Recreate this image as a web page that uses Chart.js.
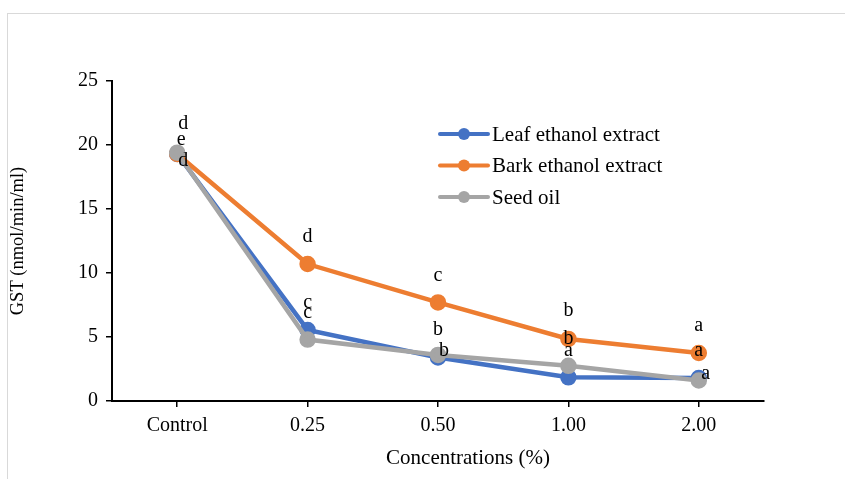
<!DOCTYPE html>
<html>
<head>
<meta charset="utf-8">
<script src="https://cdn.jsdelivr.net/npm/chart.js@4"></script>
<style>
  html, body { margin: 0; padding: 0; background: #fff; }
  #wrap { position: relative; width: 845px; height: 479px; overflow: hidden; }
  #frame { position: absolute; left: 7px; top: 13px; width: 900px; height: 500px; border: 1px solid #d9d9d9; }
  #chart { position: absolute; left: 0; top: 0; }
</style>
</head>
<body>
<div id="wrap">
  <div id="frame"></div>
  <canvas id="chart" width="845" height="479"></canvas>
</div>
<script>
const categories = ["Control", "0.25", "0.50", "1.00", "2.00"];
const seriesNames = ["Leaf ethanol extract", "Bark ethanol extract", "Seed oil"];
const leafValues = [19.3, 5.55, 3.4, 1.85, 1.8];
const barkValues = [19.3, 10.7, 7.7, 4.85, 3.75];
const seedValues = [19.4, 4.8, 3.6, 2.75, 1.6];
const leafLetters = ["e", "c", "b", "a", "a"];
const barkLetters = ["d", "d", "c", "b", "a"];
const seedLetters = ["d", "c", "b", "b", "a"];
const yTicks = [0, 5, 10, 15, 20, 25];
const xTitle = "Concentrations (%)";

const colors = ["#4472C4", "#ED7D31", "#A5A5A5"];
const serif = "'Liberation Serif', 'Times New Roman', serif";

// label offsets (px) from each point, per series
const letterOffsets = [
  [[4, -14], [0, -27], [0, -28], [0, -27], [0, -27]],
  [[6, -30], [0, -27], [0, -27], [0, -28], [0, -27]],
  [[6, 8], [0, -27], [6, -4], [0, -27], [7, -7]]
];

const letterPlugin = {
  id: "letters",
  afterDatasetsDraw(chart) {
    const ctx = chart.ctx;
    const letters = [leafLetters, barkLetters, seedLetters];
    ctx.save();
    ctx.font = "20px " + serif;
    ctx.fillStyle = "#000";
    ctx.textAlign = "center";
    ctx.textBaseline = "middle";
    chart.data.datasets.forEach(function (ds, i) {
      const meta = chart.getDatasetMeta(i);
      meta.data.forEach(function (pt, j) {
        const off = letterOffsets[i][j];
        ctx.fillText(letters[i][j], pt.x + off[0], pt.y + off[1]);
      });
    });
    ctx.restore();
  }
};

// legend inside the plot + x title shifted right like the original
const legendPlugin = {
  id: "boxLegend",
  afterDraw(chart) {
    const ctx = chart.ctx;
    const x0 = 440, y0 = 134, gap = 31.5;
    ctx.save();
    ctx.font = "21px " + serif;
    ctx.textBaseline = "middle";
    chart.data.datasets.forEach(function (ds, i) {
      const y = y0 + i * gap;
      ctx.strokeStyle = ds.borderColor;
      ctx.lineWidth = 4;
      ctx.lineCap = "round";
      ctx.beginPath();
      ctx.moveTo(x0, y);
      ctx.lineTo(x0 + 48, y);
      ctx.stroke();
      ctx.fillStyle = ds.borderColor;
      ctx.beginPath();
      ctx.arc(x0 + 24, y, 6, 0, Math.PI * 2);
      ctx.fill();
      ctx.fillStyle = "#000";
      ctx.fillText(ds.label, x0 + 52, y + 1);
    });
    ctx.textAlign = "center";
    ctx.fillText(xTitle, 468, 458);
    ctx.restore();
  }
};

function makeSet(i, values, order) {
  return {
    label: seriesNames[i],
    data: values,
    borderColor: colors[i],
    backgroundColor: colors[i],
    borderWidth: 4.5,
    pointRadius: 6,
    pointHoverRadius: 6,
    tension: 0,
    order: order
  };
}

new Chart(document.getElementById("chart"), {
  type: "line",
  data: {
    labels: categories,
    datasets: [
      makeSet(0, leafValues, 2),
      makeSet(1, barkValues, 1),
      makeSet(2, seedValues, 0)
    ]
  },
  options: {
    responsive: false,
    animation: false,
    layout: { padding: { left: 0, top: 81, right: 81, bottom: 10 } },
    plugins: { legend: { display: false }, tooltip: { enabled: false } },
    scales: {
      x: {
        offset: true,
        grid: { display: true, offset: false, drawOnChartArea: false, drawTicks: true, tickLength: 6, color: "#000", lineWidth: 1.5 },
        border: { color: "#000", width: 2 },
        ticks: { color: "#000", font: { family: serif, size: 20 }, padding: 7, maxRotation: 0 },
        title: { display: false },
        afterFit(scale) { scale.height = 68; }
      },
      y: {
        min: 0,
        max: 25,
        afterBuildTicks(scale) { scale.ticks = yTicks.map(function (v) { return { value: v }; }); },
        grid: { drawOnChartArea: false, drawTicks: true, tickLength: 6, color: "#000", lineWidth: 1.5 },
        border: { color: "#000", width: 2 },
        ticks: { color: "#000", font: { family: serif, size: 20 }, padding: 8 },
        title: { display: true, text: "GST (nmol/min/ml)", color: "#000", font: { family: serif, size: 18.5 }, padding: { top: 7, bottom: 0 } },
        afterFit(scale) { scale.width = 112; }
      }
    }
  },
  plugins: [letterPlugin, legendPlugin]
});
</script>
</body>
</html>
